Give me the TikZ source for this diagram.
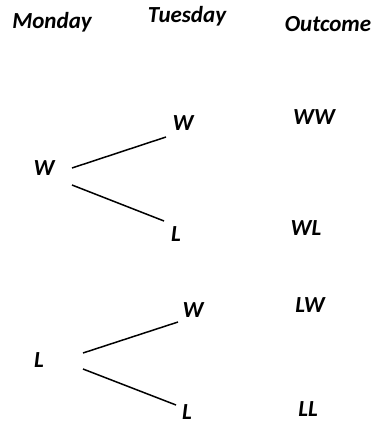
\documentclass[tikz,border=0pt]{standalone}
\usepackage{fontspec}
\setmainfont{Carlito}
\usetikzlibrary{calc}
\tikzset{lbl/.style={font=\fontsize{23}{27}\selectfont\bfseries\itshape,inner sep=0pt},
  branch/.style={line width=1.5pt}}

\begin{document}
\begin{tikzpicture}[x=1pt,y=-1pt]
\useasboundingbox (0,0) rectangle (375,425);
% headings
\node[lbl] (mon) at (52,22) {Monday};
\node[lbl] (tue) at (187,16) {Tuesday};
\node[lbl] (out) at (328,24) {Outcome};
% first tree
\node[lbl] (w1) at (44,168) {W};
\node[lbl] (w1w) at (183,123) {W};
\node[lbl] (w1l) at (176,234) {L};
\draw[branch] ([shift={(28,0)}]w1.center) -- ([shift={(-17,14)}]w1w.center);
\draw[branch] ([shift={(28,17)}]w1.center) -- ([shift={(-12,-13)}]w1l.center);
% second tree
\node[lbl] (l1) at (39,360) {L};
\node[lbl] (l1w) at (193,310) {W};
\node[lbl] (l1l) at (187,412) {L};
\draw[branch] ([shift={(44,-7)}]l1.center) -- ([shift={(-15,12)}]l1w.center);
\draw[branch] ([shift={(44,9)}]l1.center) -- ([shift={(-11,-7)}]l1l.center);
% outcomes
\node[lbl] (ww) at (314,117) {WW};
\node[lbl] (wl) at (306,228) {WL};
\node[lbl] (lw) at (310,305) {LW};
\node[lbl] (ll) at (308,409) {LL};
\end{tikzpicture}
\end{document}
